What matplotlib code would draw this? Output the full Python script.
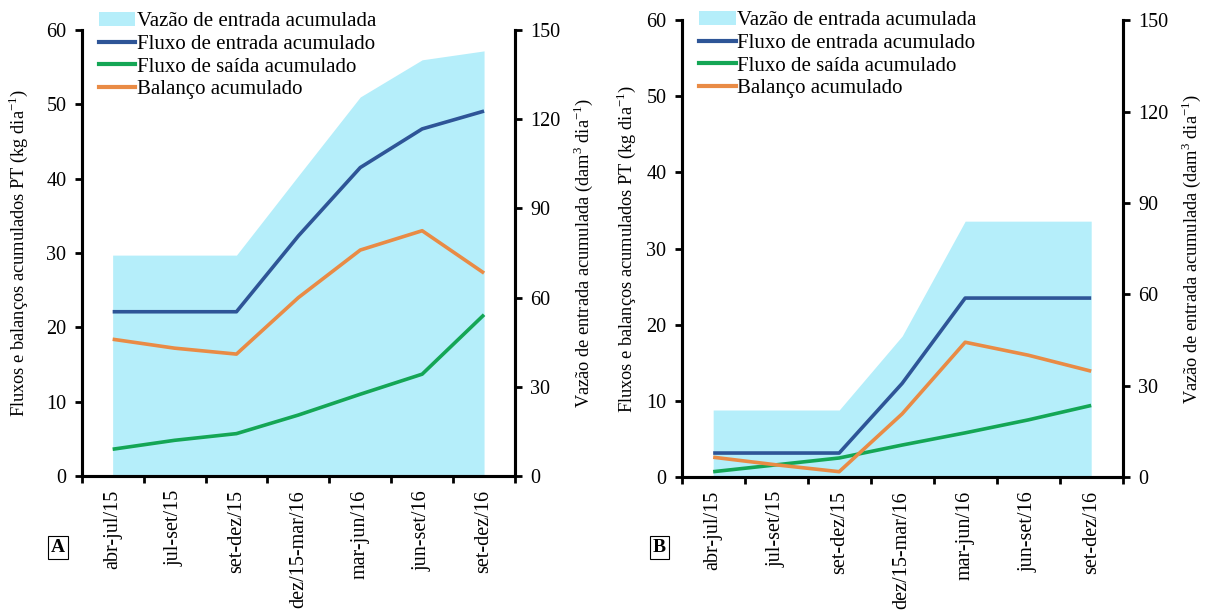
import numpy as np
import matplotlib
matplotlib.use('Agg')
import matplotlib.pyplot as plt
from matplotlib.patches import Patch
from matplotlib.lines import Line2D

plt.rcParams['font.family'] = ['Liberation Serif', 'DejaVu Serif']
plt.rcParams['mathtext.fontset'] = 'custom'
plt.rcParams['mathtext.rm'] = 'Liberation Serif'
plt.rcParams['font.size'] = 14

periodos = ['abr-jul/15', 'jul-set/15', 'set-dez/15', 'dez/15-mar/16',
            'mar-jun/16', 'jun-set/16', 'set-dez/16']

# painel A
vazao_A = [74.3, 74.3, 74.3, 101.0, 127.5, 140.0, 143.0]
entrada_A = [22.1, 22.1, 22.1, 32.3, 41.5, 46.7, 49.1]
saida_A = [3.6, 4.8, 5.7, 8.2, 11.0, 13.7, 21.7]
balanco_A = [18.4, 17.2, 16.4, 24.0, 30.4, 33.0, 27.3]

# painel B
vazao_B = [22.0, 22.0, 22.0, 46.3, 84.0, 84.0, 84.0]
entrada_B = [3.15, 3.15, 3.15, 12.3, 23.5, 23.5, 23.5]
saida_B = [0.7, 1.6, 2.5, 4.2, 5.8, 7.5, 9.4]
balanco_B = [2.6, 1.6, 0.7, 8.3, 17.7, 16.0, 13.9]

c_fill = '#b5eefa'
c_ent = '#2e5597'
c_sai = '#14a655'
c_bal = '#e98b45'

fs_tick = 14.5
fs_lab = 13.2

fig = plt.figure(figsize=(12.05, 6.1), dpi=100)

def painel(rect, vazao, ent, sai, bal, letra, lx, leg_y, lpad):
    ax = fig.add_axes(rect)
    ax2 = ax.twinx()
    ax.set_zorder(2)
    ax.patch.set_visible(False)
    x = np.arange(len(periodos))
    ax2.fill_between(x, 0, vazao, color=c_fill, lw=0)
    ax.plot(x, ent, color=c_ent, lw=2.6, solid_capstyle='butt')
    ax.plot(x, sai, color=c_sai, lw=2.6, solid_capstyle='butt')
    ax.plot(x, bal, color=c_bal, lw=2.6, solid_capstyle='butt')
    ax.set_xlim(-0.5, len(periodos) - 0.5)
    ax.set_ylim(0, 60)
    ax2.set_ylim(0, 150)
    ax.set_yticks(range(0, 61, 10))
    ax2.set_yticks(range(0, 151, 30))
    ax.set_xticks(np.arange(len(periodos) + 1) - 0.5)
    ax.set_xticklabels([])
    ax.set_xticks(x, minor=True)
    ax.set_xticklabels(periodos, minor=True, rotation=90)
    ax.tick_params(axis='x', which='minor', length=0, pad=10, labelsize=fs_tick)
    ax.tick_params(axis='x', which='major', direction='out', length=5, width=2)
    ax.tick_params(axis='y', direction='out', length=5, width=2, labelsize=fs_tick, pad=6)
    ax2.tick_params(axis='y', direction='out', length=5, width=2, labelsize=fs_tick, pad=6)
    for a in (ax, ax2):
        a.spines['top'].set_visible(False)
        for s in ('left', 'right', 'bottom'):
            a.spines[s].set_linewidth(2.2)
    ax.set_ylabel('Fluxos e balanços acumulados PT (kg dia$^{\\mathrm{-1}}$)', fontsize=fs_lab, labelpad=lpad)
    ax2.set_ylabel('Vazão de entrada acumulada (dam$^{3}$ dia$^{\\mathrm{-1}}$)', fontsize=fs_lab, labelpad=8)
    handles = [Patch(facecolor=c_fill, edgecolor='none'),
               Line2D([], [], color=c_ent, lw=3),
               Line2D([], [], color=c_sai, lw=3),
               Line2D([], [], color=c_bal, lw=3)]
    labels = ['Vazão de entrada acumulada', 'Fluxo de entrada acumulado',
              'Fluxo de saída acumulado', 'Balanço acumulado']
    ax.legend(handles, labels, loc='upper left', bbox_to_anchor=(0.04, leg_y),
              frameon=False, fontsize=15, handlelength=1.75, handletextpad=0.05,
              labelspacing=0.15, borderaxespad=0, borderpad=0)
    fig.text(lx, 0.103, letra, fontsize=14, fontweight='bold', ha='center', va='center',
             bbox=dict(boxstyle='square,pad=0.15', fc='white', ec='black', lw=0.8))
    return ax

painel([0.0678, 0.2197, 0.3596, 0.731], vazao_A, entrada_A, saida_A, balanco_A, 'A', 0.048, 1.041, 12)
painel([0.5657, 0.218, 0.366, 0.749], vazao_B, entrada_B, saida_B, balanco_B, 'B', 0.547, 1.021, 6)

fig.savefig('out.png', dpi=100)
plt.close(fig)
